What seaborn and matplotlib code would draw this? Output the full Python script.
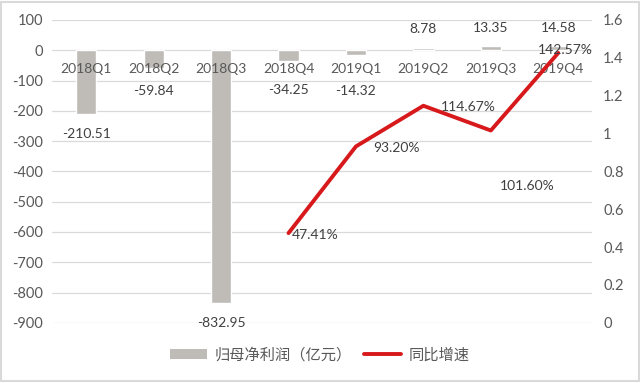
import matplotlib
matplotlib.use("Agg")
import matplotlib.pyplot as plt
import seaborn as sns
import pandas as pd
from matplotlib.lines import Line2D
from matplotlib.patches import Patch, Rectangle

categories = ["2018Q1", "2018Q2", "2018Q3", "2018Q4", "2019Q1", "2019Q2", "2019Q3", "2019Q4"]
profit = [-210.51, -59.84, -832.95, -34.25, -14.32, 8.78, 13.35, 14.58]
growth_categories = ["2018Q4", "2019Q1", "2019Q2", "2019Q3", "2019Q4"]
growth = [0.4741, 0.9320, 1.1467, 1.0160, 1.4257]
growth_labels = ["47.41%", "93.20%", "114.67%", "101.60%", "142.57%"]
left_ticks = [100, 0, -100, -200, -300, -400, -500, -600, -700, -800, -900]
right_ticks = [0, 0.2, 0.4, 0.6, 0.8, 1, 1.2, 1.4, 1.6]
legend_bar = "归母净利润（亿元）"
legend_line = "同比增速"

sns.set_theme(style="white")
plt.rcParams["font.family"] = ["Lato", "Noto Sans CJK SC", "DejaVu Sans"]

text_color = "#595959"
bar_color = "#bfbcb8"
line_color = "#d7191c"
grid_color = "#d9d9d9"

fig = plt.figure(figsize=(6.4, 3.83), dpi=100)
ax = fig.add_axes([0.082, 0.157, 0.843, 0.791])

df = pd.DataFrame({"cat": categories, "val": profit})
sns.barplot(data=df, x="cat", y="val", order=categories, color=bar_color,
            width=0.3, saturation=1, ax=ax, zorder=2)
ax.set_ylim(-900, 100)
ax.set_yticks(left_ticks)
ax.set_yticklabels([str(t) for t in left_ticks], color=text_color, fontsize=10.5)
ax.set_xlim(-0.5, len(categories) - 0.5)
ax.set_xticks([])
ax.set_xlabel("")
ax.set_ylabel("")
for y in left_ticks:
    ax.axhline(y, color=grid_color, lw=0.9, zorder=0)
for s in ax.spines.values():
    s.set_visible(False)
ax.tick_params(axis="y", length=0, pad=7)

# category labels along zero line
for i, c in enumerate(categories):
    ax.annotate(c, xy=(i, 0), xytext=(0, -9), textcoords="offset points",
                ha="center", va="top", fontsize=10, color=text_color, zorder=5)

# bar value labels (offsets in points)
bar_offsets = [-14.5, -16, -14.5, -21.5, -26, 13, 13, 13]
for i, (v, off) in enumerate(zip(profit, bar_offsets)):
    ax.annotate(f"{v:.2f}", xy=(i, v), xytext=(0, off), textcoords="offset points",
                ha="center", va="center", fontsize=10, color="#404040", zorder=5)

ax2 = ax.twinx()
gx = [categories.index(c) for c in growth_categories]
gdf = pd.DataFrame({"x": gx, "g": growth})
sns.lineplot(data=gdf, x="x", y="g", color=line_color, lw=2.8, ax=ax2, zorder=4)
ax2.set_ylim(0, 1.6)
ax2.set_yticks(right_ticks)
ax2.set_yticklabels([f"{t:g}" for t in right_ticks], color=text_color, fontsize=10.5)
ax2.set_xlim(-0.5, len(categories) - 0.5)
ax2.set_xlabel("")
ax2.set_ylabel("")
ax2.tick_params(axis="y", length=0, pad=8)
for s in ax2.spines.values():
    s.set_visible(False)
ax2.grid(False)

label_offsets = [(19, -1.5), (29, -1), (32, -1), (26, -40), (5, 2)]
for x, g, lab, (dx, dy) in zip(gx, growth, growth_labels, label_offsets):
    ax2.annotate(lab, xy=(x, g), xytext=(dx, dy), textcoords="offset points",
                 ha="center", va="center", fontsize=10, color="#404040", zorder=6)

handles = [Patch(facecolor=bar_color, edgecolor="none"),
           Line2D([0], [0], color=line_color, lw=2.8)]
fig.legend(handles, [legend_bar, legend_line], loc="center", bbox_to_anchor=(0.5, 0.073),
           ncol=2, frameon=False, fontsize=11, labelcolor=text_color,
           handlelength=2.4, handleheight=0.6, columnspacing=0.8, handletextpad=0.5)

fig.patches.append(Rectangle((0.002, 0.004), 0.996, 0.992, transform=fig.transFigure,
                             fill=False, edgecolor="#d9d9d9", lw=1.5))

fig.savefig("out.png", dpi=100)
